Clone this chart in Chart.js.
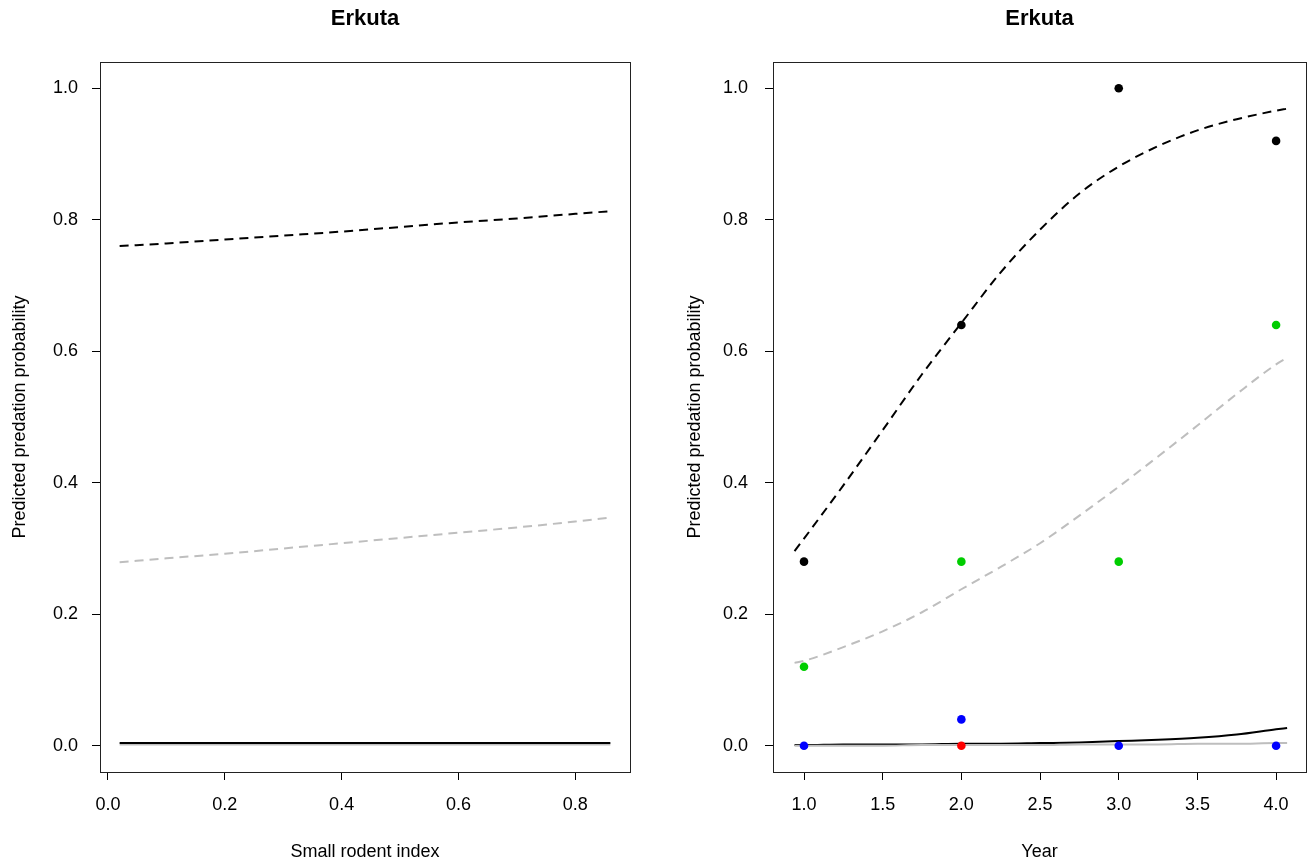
<!DOCTYPE html>
<html>
<head>
<meta charset="utf-8">
<script src="https://cdn.jsdelivr.net/npm/chart.js@4.4.1/dist/chart.umd.min.js"></script>
<style>
  body { margin: 0; background: #fff; }
  #wrap { position: relative; width: 1312px; height: 863px; }
  canvas { position: absolute; top: 0; }
</style>
</head>
<body>
<div id="wrap">
  <canvas id="rodentCanvas" width="656" height="863" style="left:0"></canvas>
  <canvas id="yearCanvas" width="656" height="863" style="left:656px"></canvas>
</div>
<script>
// left panel: predicted probability vs small rodent index
var rodentX = [0.02, 0.1, 0.2, 0.3, 0.4, 0.5, 0.6, 0.7, 0.8, 0.86];
var rodentDashBlack = [0.760, 0.764, 0.770, 0.776, 0.782, 0.789, 0.796, 0.802, 0.809, 0.813];
var rodentDashGray = [0.279, 0.285, 0.292, 0.300, 0.308, 0.316, 0.324, 0.332, 0.341, 0.347];
var rodentSolidBlack = [0.004, 0.004, 0.004, 0.004, 0.004, 0.004, 0.004, 0.004, 0.004, 0.004];
var rodentSolidGray = [0.002, 0.002, 0.002, 0.002, 0.002, 0.002, 0.002, 0.002, 0.002, 0.002];

// right panel: predicted probability vs year
var yearX = [0.94, 1.0, 1.25, 1.5, 1.75, 2.0, 2.25, 2.5, 2.75, 3.0, 3.25, 3.5, 3.75, 4.0, 4.07];
var yearDashBlack = [0.296, 0.315, 0.396, 0.48, 0.565, 0.643, 0.72, 0.785, 0.84, 0.881, 0.912, 0.936, 0.953, 0.966, 0.969];
var yearDashGray = [0.126, 0.129, 0.15, 0.174, 0.203, 0.238, 0.272, 0.308, 0.35, 0.394, 0.44, 0.487, 0.535, 0.58, 0.59];
var yearSolidBlack = [0.001, 0.001, 0.002, 0.002, 0.002, 0.003, 0.003, 0.004, 0.005, 0.007, 0.009, 0.012, 0.017, 0.025, 0.027];
var yearSolidGray = [0.0, 0.0, 0.0, 0.0, 0.001, 0.001, 0.001, 0.001, 0.002, 0.002, 0.002, 0.003, 0.003, 0.004, 0.004];

var years = [1, 2, 3, 4];
var obsBlack = [0.28, 0.64, 1.0, 0.92];
var obsGreen = [0.12, 0.28, 0.28, 0.64];
var obsBlue = [0.0, 0.04, 0.0, 0.0];
var obsRedX = [2];
var obsRed = [0.0];

var rodentTicks = [0.0, 0.2, 0.4, 0.6, 0.8];
var yearTicks = [1.0, 1.5, 2.0, 2.5, 3.0, 3.5, 4.0];
var probTicks = [0.0, 0.2, 0.4, 0.6, 0.8, 1.0];

var FONT = "'Liberation Sans', Arial, sans-serif";

function pairs(xs, ys) {
  return xs.map(function (x, i) { return { x: x, y: ys[i] }; });
}

function lineSet(xs, ys, color, dashed) {
  return {
    data: pairs(xs, ys),
    showLine: true,
    borderColor: color,
    borderWidth: 2,
    borderDash: dashed ? [9, 6] : [],
    pointRadius: 0,
    cubicInterpolationMode: 'monotone',
    fill: false
  };
}

function pointSet(xs, ys, color) {
  return {
    data: pairs(xs, ys),
    showLine: false,
    pointRadius: 4.3,
    pointHoverRadius: 4.3,
    pointBackgroundColor: color,
    pointBorderColor: color,
    pointBorderWidth: 0
  };
}

var frame = {
  id: 'frame',
  afterDraw: function (chart) {
    var a = chart.chartArea;
    var ctx = chart.ctx;
    ctx.save();
    ctx.strokeStyle = '#222';
    ctx.lineWidth = 1;
    ctx.strokeRect(Math.round(a.left) + 0.5, Math.round(a.top) + 0.5,
      Math.round(a.right - a.left), Math.round(a.bottom - a.top));
    ctx.restore();
  }
};

function makeOptions(cfg) {
  return {
    responsive: false,
    animation: false,
    devicePixelRatio: 1,
    layout: { padding: { left: 0, right: cfg.padRight, top: 0, bottom: 0 } },
    plugins: {
      legend: { display: false },
      tooltip: { enabled: false },
      title: {
        display: true,
        text: 'Erkuta',
        fullSize: false,
        color: '#000',
        font: { family: FONT, size: 22, weight: 'bold' },
        padding: { top: 6, bottom: 29.6 }
      }
    },
    scales: {
      x: {
        type: 'linear',
        min: cfg.xMin,
        max: cfg.xMax,
        afterBuildTicks: function (s) { s.ticks = cfg.xTicks.map(function (v) { return { value: v }; }); },
        afterFit: function (s) { s.height = 91; },
        border: { display: false },
        grid: { drawOnChartArea: false, drawTicks: true, tickLength: 8, color: '#000', tickColor: '#000' },
        ticks: {
          color: '#000',
          padding: 14,
          maxRotation: 0,
          font: { family: FONT, size: 18 },
          callback: function (v) { return Number(v).toFixed(1); }
        },
        title: {
          display: true,
          text: cfg.xTitle,
          color: '#000',
          font: { family: FONT, size: 18 },
          padding: { top: 0, bottom: 0 }
        }
      },
      y: {
        type: 'linear',
        min: -0.04,
        max: 1.04,
        afterBuildTicks: function (s) { s.ticks = probTicks.map(function (v) { return { value: v }; }); },
        afterFit: function (s) { s.width = cfg.yWidth; },
        border: { display: false },
        grid: { drawOnChartArea: false, drawTicks: true, tickLength: 8, color: '#000', tickColor: '#000' },
        ticks: {
          color: '#000',
          padding: cfg.yTickPad,
          font: { family: FONT, size: 18 },
          callback: function (v) { return Number(v).toFixed(1); }
        },
        title: {
          display: true,
          text: 'Predicted predation probability',
          color: '#000',
          font: { family: FONT, size: 18 },
          padding: { top: cfg.yTitlePad, bottom: 0 }
        }
      }
    }
  };
}

function rodentChartMethod() {
  this.rodentChart = new Chart(document.getElementById('rodentCanvas').getContext('2d'), {
    type: 'scatter',
    data: {
      datasets: [
        lineSet(rodentX, rodentSolidBlack, '#000', false),
        lineSet(rodentX, rodentSolidGray, '#bebebe', false),
        lineSet(rodentX, rodentDashBlack, '#000', true),
        lineSet(rodentX, rodentDashGray, '#bebebe', true)
      ]
    },
    options: makeOptions({
      padRight: 26, xMin: -0.0136, xMax: 0.8936, xTicks: rodentTicks,
      xTitle: 'Small rodent index', yWidth: 100, yTickPad: 14, yTitlePad: 9
    }),
    plugins: [frame]
  });
}

function yearChartMethod() {
  this.yearChart = new Chart(document.getElementById('yearCanvas').getContext('2d'), {
    type: 'scatter',
    data: {
      datasets: [
        pointSet(obsRedX, obsRed, '#ff0000'),
        pointSet(years, obsBlue, '#0000ff'),
        pointSet(years, obsGreen, '#00cd00'),
        pointSet(years, obsBlack, '#000'),
        lineSet(yearX, yearSolidGray, '#bebebe', false),
        lineSet(yearX, yearSolidBlack, '#000', false),
        lineSet(yearX, yearDashBlack, '#000', true),
        lineSet(yearX, yearDashGray, '#bebebe', true)
      ]
    },
    options: makeOptions({
      padRight: 6, xMin: 0.803, xMax: 4.19, xTicks: yearTicks,
      xTitle: 'Year', yWidth: 117, yTickPad: 17, yTitlePad: 28
    }),
    plugins: [frame]
  });
}

document.addEventListener('DOMContentLoaded', function () {
  rodentChartMethod();
  yearChartMethod();
});
</script>
</body>
</html>
